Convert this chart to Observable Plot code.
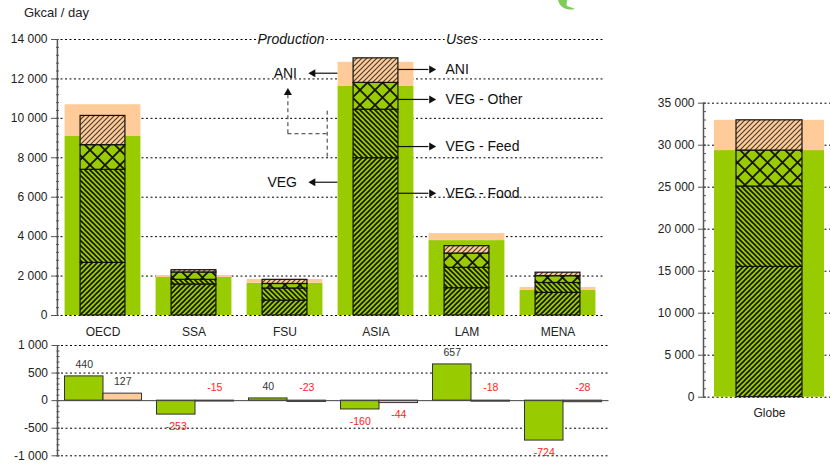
<!DOCTYPE html>
<html>
<head>
<meta charset="utf-8">
<script src="https://cdn.jsdelivr.net/npm/d3@7"></script>
<script src="https://cdn.jsdelivr.net/npm/@observablehq/plot@0.6"></script>
<style>
  html, body { margin: 0; padding: 0; background: #fff; overflow: hidden; }
  #chart { position: relative; width: 830px; height: 466px; overflow: hidden;
           font-family: "Liberation Sans", Arial, sans-serif; color: #222; }
  .panel { position: absolute; }
  .unit { position: absolute; left: 24px; top: 6px; font-size: 13px; line-height: 13px; }
  .leaf { position: absolute; left: 555px; top: 0; }
</style>
</head>
<body>
<div id="chart">
  <svg width="0" height="0" style="position:absolute">
    <defs>
      <pattern id="hatch-food" patternUnits="userSpaceOnUse" width="5" height="5">
        <rect width="5" height="5" fill="#99CC00"/>
        <path d="M-1,1L1,-1M0,5L5,0M4,6L6,4" stroke="#141400" stroke-width="1.6"/>
      </pattern>
      <pattern id="hatch-feed" patternUnits="userSpaceOnUse" width="5" height="5">
        <rect width="5" height="5" fill="#99CC00"/>
        <path d="M-1,4L1,6M0,0L5,5M4,-1L6,1" stroke="#141400" stroke-width="1.6"/>
      </pattern>
      <pattern id="hatch-other" patternUnits="userSpaceOnUse" width="15" height="15">
        <rect width="15" height="15" fill="#99CC00"/>
        <path d="M-1,-1L16,16M16,-1L-1,16" stroke="#141400" stroke-width="1.8"/>
      </pattern>
      <pattern id="hatch-ani" patternUnits="userSpaceOnUse" width="5" height="5">
        <rect width="5" height="5" fill="#FFCC99"/>
        <path d="M-1,1L1,-1M0,5L5,0M4,6L6,4" stroke="#4a3e32" stroke-width="1.2"/>
      </pattern>
    </defs>
  </svg>
  <svg class="leaf" width="25" height="12">
    <path d="M3,0 L12,0 C12,3 11,5 12,6 C15,7 18,8 20,9 C16,10 12,9.5 9,8 C6,6.5 4,4 3,0 Z" fill="#5cc22e" opacity="0.8"/>
  </svg>
  <div class="unit">Gkcal / day</div>
</div>
<script>
// Regions
const regions = ["OECD", "SSA", "FSU", "ASIA", "LAM", "MENA"];

// Production (Gkcal / day)
const prodVeg = [9080, 1930, 1640, 11640, 3800, 1270];
const prodAni = [1610, 100, 186, 1200, 355, 150];

// Uses (Gkcal / day)
const useFood  = [2670, 1575, 755, 7980, 1385, 1150];
const useFeed  = [4720, 235, 615, 2460, 1035, 500];
const useOther = [1250, 373, 230, 1360, 723, 344];
const useAni   = [1483, 115, 209, 1244, 373, 178];

// Balance: production minus uses
const balVeg = [440, -253, 40, -160, 657, -724];
const balAni = [127, -15, -23, -44, -18, -28];

// Axis ticks
const topTicks   = [0, 2000, 4000, 6000, 8000, 10000, 12000, 14000];
const balTicks   = [-1000, -500, 0, 500, 1000];
const globeTicks = [0, 5000, 10000, 15000, 20000, 25000, 30000, 35000];

// Callout labels
const callLeft  = [{text: "ANI", y: 12290}, {text: "VEG", y: 6760}];
const callRight = [{text: "ANI", y: 12480}, {text: "VEG - Other", y: 10960},
                   {text: "VEG - Feed", y: 8570}, {text: "VEG - Food", y: 6200}];

const GREEN = "#99CC00", PEACH = "#FFCC99";
const fills = {
  "VEG": GREEN, "ANI": PEACH,
  "Food": "url(#hatch-food)", "Feed": "url(#hatch-feed)",
  "Other": "url(#hatch-other)", "ANI use": "url(#hatch-ani)"
};
const colorScale = {domain: Object.keys(fills), range: Object.values(fills)};

const loc = d3.formatLocale({decimal: ",", thousands: " ", grouping: [3], currency: ["", ""], minus: "-"});
const fmt = loc.format(",d");

const baseStyle = {
  background: "none", overflow: "visible", maxWidth: "none",
  fontFamily: '"Liberation Sans", Arial, sans-serif', fontSize: "12px", color: "#222"
};
const grid = {stroke: "#000", strokeWidth: 1, strokeDasharray: "2,2.5"};
const blank = () => "";
const minor = (lo, hi, step) => d3.range(lo, hi + step / 2, step);
const inset = (bw, w) => (bw - w) / 2;
// horizontal span between two offsets (px) from the band centre
const span = (bw, a, b) => ({insetLeft: bw / 2 + a, insetRight: bw / 2 - b});

const prodRows = regions.flatMap((region, i) => [
  {region, layer: "VEG", value: prodVeg[i]},
  {region, layer: "ANI", value: prodAni[i]}
]);
const useRows = regions.flatMap((region, i) => [
  {region, layer: "Food", value: useFood[i]},
  {region, layer: "Feed", value: useFeed[i]},
  {region, layer: "Other", value: useOther[i]},
  {region, layer: "ANI use", value: useAni[i]}
]);

function place(svg, left, top) {
  const div = document.createElement("div");
  div.className = "panel";
  div.style.left = left + "px";
  div.style.top = top + "px";
  div.appendChild(svg);
  document.getElementById("chart").appendChild(div);
}

// ---- Regional production vs uses ----
const T = {w: 620, h: 340, ml: 56, mr: 17, mt: 39, mb: 25};
const bwT = (T.w - T.ml - T.mr) / regions.length;
const focus = () => "ASIA";
const line = {stroke: "#111", strokeWidth: 1.2};
const dash = {stroke: "#333", strokeWidth: 1, strokeDasharray: "4,3"};

const topPlot = Plot.plot({
  width: T.w, height: T.h,
  marginLeft: T.ml, marginRight: T.mr, marginTop: T.mt, marginBottom: T.mb,
  style: baseStyle,
  x: {type: "band", domain: regions, padding: 0, label: null},
  y: {domain: [0, 14000], label: null},
  color: colorScale,
  marks: [
    Plot.ruleY(topTicks, grid),
    Plot.barY(prodRows, {x: "region", y: "value", fill: "layer",
      insetLeft: inset(bwT, 76), insetRight: inset(bwT, 76)}),
    Plot.barY(useRows, {x: "region", y: "value", fill: "layer", stroke: "#111", strokeWidth: 1.2,
      insetLeft: inset(bwT, 45), insetRight: inset(bwT, 45)}),
    Plot.ruleX([regions[0]], {dx: -bwT / 2, stroke: "#555", strokeWidth: 1.5}),
    Plot.axisY({ticks: minor(0, 14000, 400), tickSize: 3, dx: 3, tickFormat: blank, stroke: "#555"}),
    Plot.axisY({ticks: topTicks, tickSize: 8, dx: 3, tickFormat: blank, stroke: "#555"}),
    Plot.axisY({ticks: topTicks, tickSize: 0, tickPadding: 9, tickFormat: fmt}),
    Plot.axisX({tickSize: 0, tickPadding: 11.5}),
    // headings
    Plot.text(["Production"], {x: focus, y: () => 14000, dx: -85, text: d => d, fontSize: 14,
      fontStyle: "italic", fill: "#111", stroke: "white", strokeWidth: 5, paintOrder: "stroke"}),
    Plot.text(["Uses"], {x: focus, y: () => 14000, dx: 86, text: d => d, fontSize: 14,
      fontStyle: "italic", fill: "#111", stroke: "white", strokeWidth: 5, paintOrder: "stroke"}),
    // VEG feeding ANI
    Plot.ruleX([{y1: 8030, y2: 10400}], {x: focus, y1: "y1", y2: "y2", dx: -48.8, ...dash}),
    Plot.tickY([9220], {x: focus, y: d => d, ...span(bwT, -88.1, -48.8), ...dash}),
    Plot.ruleX([{y1: 9220, y2: 11350}], {x: focus, y1: "y1", y2: "y2", dx: -88.1, ...dash}),
    Plot.dot([11300], {x: focus, y: d => d, dx: -88.1, symbol: "triangle", r: 3, fill: "#111"}),
    // production callouts
    Plot.tickY(callLeft, {x: focus, y: "y", ...span(bwT, -61, -38), ...line}),
    Plot.dot(callLeft, {x: focus, y: "y", dx: -63, symbol: "triangle", rotate: -90, r: 3, fill: "#111"}),
    Plot.text(callLeft, {x: focus, y: "y", dx: -79, text: "text", textAnchor: "end", fontSize: 14, fill: "#111"}),
    // uses callouts
    Plot.tickY(callRight, {x: focus, y: "y", ...span(bwT, 22.5, 53), ...line}),
    Plot.dot(callRight, {x: focus, y: "y", dx: 55.5, symbol: "triangle", rotate: 90, r: 3, fill: "#111"}),
    Plot.text(callRight, {x: focus, y: "y", dx: 69.5, text: "text", textAnchor: "start", fontSize: 14, fill: "#111"})
  ]
});

// ---- Balance panel ----
const B = {w: 620, h: 136, ml: 56.5, mr: 11.5, mt: 15, mb: 10.7};
const bwB = (B.w - B.ml - B.mr) / regions.length;
const vegBal = regions.map((region, i) => ({region, v: balVeg[i]}));
const aniBal = regions.map((region, i) => ({region, v: balAni[i]}));

function balLabels(rows, dx) {
  const common = {x: "region", text: d => fmt(d.v), dx, fontSize: 10.5};
  return [
    Plot.text(rows.filter(d => d.v >= 0), {...common, y: "v", dy: -12, fill: "#333"}),
    Plot.text(rows.filter(d => d.v < 0 && d.v > -40), {...common, y: () => 0, dy: -13, fill: "#ff1a1a"}),
    Plot.text(rows.filter(d => d.v <= -40), {...common, y: "v", dy: 12, fill: "#ff1a1a"})
  ];
}

const balPlot = Plot.plot({
  width: B.w, height: B.h,
  marginLeft: B.ml, marginRight: B.mr, marginTop: B.mt, marginBottom: B.mb,
  style: baseStyle,
  x: {type: "band", domain: regions, padding: 0, label: null, axis: null},
  y: {domain: [-1000, 1000], label: null},
  marks: [
    Plot.ruleY(balTicks.filter(d => d !== 0), grid),
    Plot.barY(vegBal, {x: "region", y: "v", fill: GREEN, stroke: "#333", strokeWidth: 1,
      insetLeft: 7.5, insetRight: bwB / 2}),
    Plot.barY(aniBal, {x: "region", y: "v", fill: PEACH, stroke: "#333", strokeWidth: 1,
      insetLeft: bwB / 2, insetRight: 7.5}),
    Plot.ruleY([0], {stroke: "#444", strokeWidth: 1}),
    Plot.ruleX([regions[0]], {dx: -bwB / 2, stroke: "#555", strokeWidth: 1.5}),
    Plot.axisY({ticks: minor(-1000, 1000, 100), tickSize: 3, dx: 3, tickFormat: blank, stroke: "#555"}),
    Plot.axisY({ticks: balTicks, tickSize: 8, dx: 3, tickFormat: blank, stroke: "#555"}),
    Plot.axisY({ticks: balTicks, tickSize: 0, tickPadding: 9, tickFormat: fmt}),
    ...balLabels(vegBal, -(bwB / 2 - 7.5) / 2),
    ...balLabels(aniBal, (bwB / 2 - 7.5) / 2)
  ]
});

// ---- World total ----
const G = {w: 195, h: 350, ml: 63, mr: 0, mt: 22.7, mb: 33.3};
const bwG = G.w - G.ml - G.mr;
const globeProd = [
  {region: "Globe", layer: "VEG", value: d3.sum(prodVeg)},
  {region: "Globe", layer: "ANI", value: d3.sum(prodAni)}
];
const globeUse = [
  {region: "Globe", layer: "Food", value: d3.sum(useFood)},
  {region: "Globe", layer: "Feed", value: d3.sum(useFeed)},
  {region: "Globe", layer: "Other", value: d3.sum(useOther)},
  {region: "Globe", layer: "ANI use", value: d3.sum(useAni)}
];

const globePlot = Plot.plot({
  width: G.w, height: G.h,
  marginLeft: G.ml, marginRight: G.mr, marginTop: G.mt, marginBottom: G.mb,
  style: baseStyle,
  x: {type: "band", domain: ["Globe"], padding: 0, label: null},
  y: {domain: [0, 35000], label: null},
  color: colorScale,
  marks: [
    Plot.ruleY(globeTicks, grid),
    Plot.barY(globeProd, {x: "region", y: "value", fill: "layer",
      insetLeft: inset(bwG, 110), insetRight: inset(bwG, 110)}),
    Plot.barY(globeUse, {x: "region", y: "value", fill: "layer", stroke: "#111", strokeWidth: 1.2,
      insetLeft: inset(bwG, 66), insetRight: inset(bwG, 66)}),
    Plot.ruleX(["Globe"], {dx: -bwG / 2, stroke: "#555", strokeWidth: 1.5}),
    Plot.axisY({ticks: minor(0, 35000, 1000), tickSize: 3, dx: 3, tickFormat: blank, stroke: "#555"}),
    Plot.axisY({ticks: globeTicks, tickSize: 8, dx: 3, tickFormat: blank, stroke: "#555"}),
    Plot.axisY({ticks: globeTicks, tickSize: 0, tickPadding: 9, tickFormat: fmt}),
    Plot.axisX({tickSize: 0, tickPadding: 11.5})
  ]
});

place(balPlot, 0, 330);
place(globePlot, 640, 80);
place(topPlot, 0, 0);
</script>
</body>
</html>
